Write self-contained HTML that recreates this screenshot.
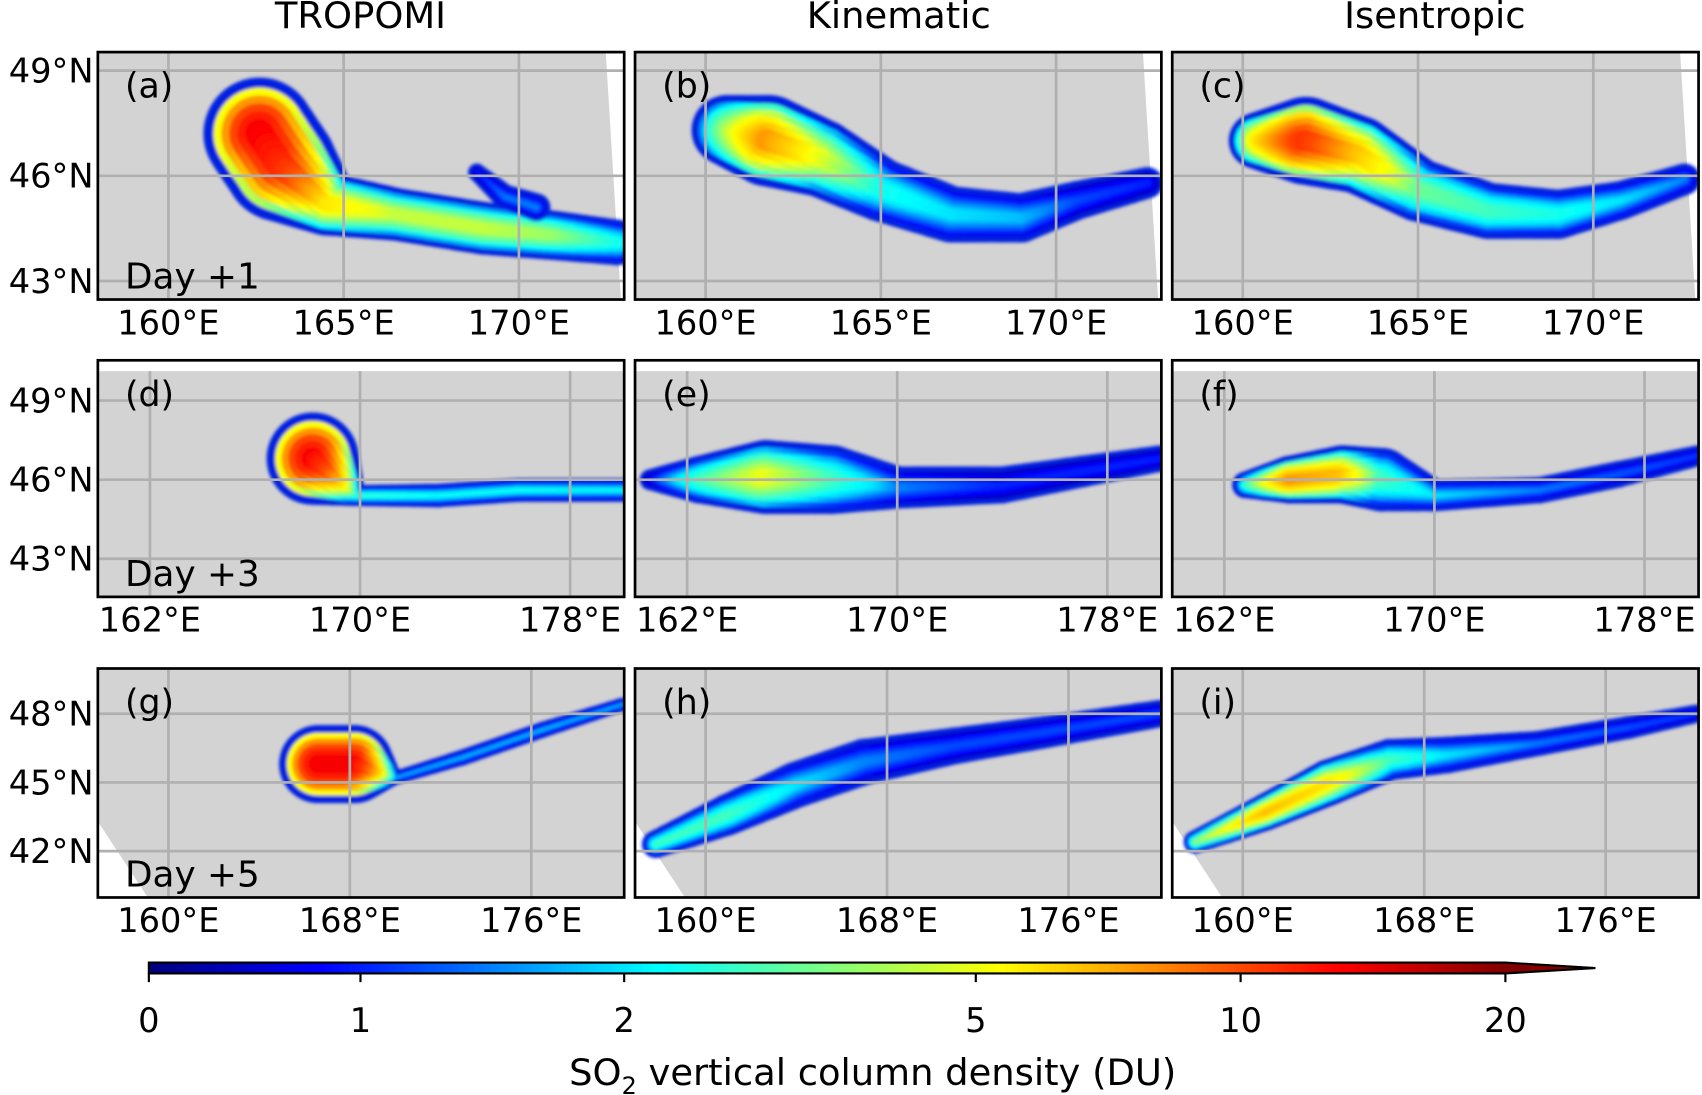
<!DOCTYPE html>
<html><head><meta charset="utf-8"><style>
html,body{margin:0;padding:0;background:#fff}
svg{display:block;font-family:"DejaVu Sans","Liberation Sans",sans-serif}
</style></head><body>
<svg id="fig" width="1702" height="1095" viewBox="0 0 1568 1009" xmlns="http://www.w3.org/2000/svg">
<defs><filter id="blr"><feGaussianBlur stdDeviation="1.5"/></filter></defs>
<g id="root"></g>
</svg>
<script>
// ---- data ----
const colTitles = ["TROPOMI","Kinematic","Isentropic"];
const panelLabels = ["(a)","(b)","(c)","(d)","(e)","(f)","(g)","(h)","(i)"];
const dayLabels = ["Day +1","Day +3","Day +5"];
const row1LonTicks = [160,165,170];
const row1LatTicks = [49,46,43];
const row2LonTicks = [162,170,178];
const row2LatTicks = [49,46,43];
const row3LonTicks = [160,168,176];
const row3LatTicks = [48,45,42];
const cbTicks = [0,1,2,5,10,20];
// plume nodes: [lon, lat, radiusDeg, DU]
const plumeA = [[162.6,47.2,1.6,14],[163.2,46.3,1.6,12],[164.5,45.2,0.9,6],[166.5,44.9,0.75,4.5],[169,44.5,0.75,4.5],[171,44.3,0.7,4],[172.8,44.1,0.65,2.5]];
const plumeA2 = [[168.8,46.1,0.25,1],[169.6,45.4,0.35,1.5],[170.5,45.1,0.4,1.5]];
const plumeB = [[160.6,47.3,1.0,4],[161.8,47.0,1.3,8],[163.3,46.5,1.1,5],[165,45.6,0.9,2.5],[167,44.9,0.8,2],[169,44.8,0.7,1.8],[170.6,45.3,0.55,1.2],[172.6,45.8,0.45,1]];
const plumeC = [[160.4,47.0,0.8,6],[161.8,47.0,1.25,11],[163.3,46.6,1.1,7],[165,45.6,0.9,3.5],[167,45.0,0.8,3],[169,44.9,0.7,2.5],[170.8,45.3,0.55,2],[172.6,45.9,0.45,1.5]];
const plumeD = [[168.2,46.8,1.75,14],[169.8,45.4,0.4,3],[173,45.4,0.45,2.5],[176,45.6,0.45,2.5],[180,45.6,0.45,2.3]];
const plumeE = [[160.6,46.0,0.4,1],[162.5,46.0,0.9,3],[165,46.1,1.4,5],[167.5,46.0,1.3,3],[170,45.7,0.8,1.5],[174,45.8,0.7,1],[177,46.3,0.6,1],[180,46.8,0.5,1]];
const plumeF = [[162.8,45.8,0.5,3],[164.5,46.0,0.9,8],[166.5,46.2,1.1,7],[168,46.0,1.2,3],[170,45.4,0.6,2],[174,45.6,0.5,1.5],[177,46.2,0.5,1.3],[180,46.9,0.4,1.2]];
const plumeG = [[166.6,45.8,1.7,14],[168.2,45.8,1.7,14],[170,45.2,0.3,2],[173,46.1,0.35,2],[176.5,47.3,0.35,2],[180,48.4,0.3,2]];
const plumeH = [[157.8,42.3,0.6,3],[161,43.6,0.9,3],[164,44.9,1.0,2],[167,45.9,1.0,1.5],[171,46.6,0.8,1.2],[175,47.2,0.7,1.2],[180,48.0,0.6,1.2]];
const plumeI = [[157.9,42.4,0.5,4],[161,43.7,0.8,7],[163.8,45.0,1.0,6],[166.5,46.0,0.9,3],[169,46.2,0.8,2],[173,46.7,0.55,1.5],[177,47.4,0.5,1.3],[180,48.0,0.4,1.2]];

// ---- layout ----
const NS="http://www.w3.org/2000/svg";
const root=document.getElementById('root');
function el(t,a,p){const e=document.createElementNS(NS,t);for(const k in a)e.setAttribute(k,a[k]);(p||root).appendChild(e);return e;}
const colX=[90,585,1080], W=485;
const rows=[
 {y0:48,y1:276,lon0:160,x0:155,ppl:32.3,lat0:46,yl:162,ppa:32.3,lonT:row1LonTicks,latT:row1LatTicks,plumes:[[plumeA,plumeA2],[plumeB],[plumeC]],top:48},
 {y0:332,y1:550,lon0:162,x0:138,ppl:24.2,lat0:46,yl:442,ppa:24.3,lonT:row2LonTicks,latT:row2LatTicks,plumes:[[plumeD],[plumeE],[plumeF]],top:342},
 {y0:616,y1:827,lon0:160,x0:155,ppl:20.9,lat0:45,yl:721,ppa:21.1,lonT:row3LonTicks,latT:row3LatTicks,plumes:[[plumeG],[plumeH],[plumeI]],top:616}
];
function jet(t){t=Math.max(0,Math.min(1,t));const c=v=>Math.round(255*Math.max(0,Math.min(1,v)));
 return `rgb(${c(1.5-Math.abs(4*t-3))},${c(1.5-Math.abs(4*t-2))},${c(1.5-Math.abs(4*t-1))})`;}
const cbPos=[0,195,438,762,1006,1250];
function norm(v){for(let i=1;i<cbTicks.length;i++){if(v<=cbTicks[i]){const f=(v-cbTicks[i-1])/(cbTicks[i]-cbTicks[i-1]);return (cbPos[i-1]+f*(cbPos[i]-cbPos[i-1]))/1250;}}return 1;}

el('text',{x:332,y:26,'font-size':34,'text-anchor':'middle',}).textContent=colTitles[0];
el('text',{x:828,y:26,'font-size':34,'text-anchor':'middle',}).textContent=colTitles[1];
el('text',{x:1322,y:26,'font-size':34,'text-anchor':'middle',}).textContent=colTitles[2];

rows.forEach((r,ri)=>{
 for(let ci=0;ci<3;ci++){
  const px=colX[ci], off=px-90;
  const g=el('g',{});
  
  
  const cid='clip'+ri+ci;
  const cp=el('clipPath',{id:cid},g); el('rect',{x:px,y:r.y0,width:W,height:r.y1-r.y0},cp);
  const inner=el('g',{'clip-path':`url(#${cid})`},g);
  el('rect',{x:px,y:r.top,width:W,height:r.y1-r.top,fill:'#d3d3d3'},inner);
  if(ri==0){el('polygon',{points:`${px+468},${r.y0} ${px+W},${r.y0} ${px+W},${r.y1} ${px+482},${r.y1}`,fill:'#fff'},inner);}
  if(ri==2){el('polygon',{points:`${px},${r.y1-70} ${px+46},${r.y1} ${px},${r.y1}`,fill:'#fff'},inner);}
  const X=lon=>off+r.x0+(lon-r.lon0)*r.ppl, Y=lat=>r.yl-(lat-r.lat0)*r.ppa;
  const pg=el('g',{filter:'url(#blr)'},inner);
  r.plumes[ci].forEach(pl=>{
   for(let k=0;k<6;k++){
    for(let i=0;i<pl.length-1;i++){
     const a=pl[i],b=pl[i+1];const steps=Math.max(2,Math.ceil(Math.hypot(X(b[0])-X(a[0]),Y(b[1])-Y(a[1]))/4));
     for(let s=0;s<=steps;s++){const f=s/steps;
      const lon=a[0]+f*(b[0]-a[0]),lat=a[1]+f*(b[1]-a[1]),rd=a[2]+f*(b[2]-a[2]),v=a[3]+f*(b[3]-a[3]);
      const rr=rd*r.ppa*(1-k*0.14)-(k==0?0:2);
      const val=k==0?0.3:v*Math.pow(k/5,0.6);
      el('circle',{cx:X(lon).toFixed(1),cy:Y(lat).toFixed(1),r:Math.max(1,rr).toFixed(1),fill:k==0?'#0020e0':jet(norm(val))},pg);
     }
    }
   }
  });
  r.lonT.forEach(t=>el('line',{x1:X(t),x2:X(t),y1:r.top,y2:r.y1,stroke:'#b0b0b0','stroke-width':2.5},inner));
  r.latT.forEach(t=>el('line',{x1:px,x2:px+W,y1:Y(t),y2:Y(t),stroke:'#b0b0b0','stroke-width':2.5},inner));
  el('rect',{x:px,y:r.y0,width:W,height:r.y1-r.y0,fill:'none',stroke:'#000','stroke-width':2.5},g);
  const pl=el('text',{x:px+25,y:r.y0+42,'font-size':32},g);pl.textContent=panelLabels[ri*3+ci];
  if(ci==0){const d=el('text',{x:px+25,y:r.y1-10,'font-size':33},g);d.textContent=dayLabels[ri];
   r.latT.forEach(t=>{const tt=el('text',{x:86,y:Y(t)+11,'font-size':31,'text-anchor':'end'},g);tt.textContent=t+'°N';});}
  r.lonT.forEach(t=>{let x=X(t);
   const tt=el('text',{x:x,y:r.y1+32,'font-size':31,'text-anchor':'middle'},g);tt.textContent=t+'°E';});
 }
});
const cb=el('g',{});


for(let i=0;i<250;i++){el('rect',{x:137+i*5,y:887,width:5.6,height:10,fill:jet(i/250)},cb);}
el('polygon',{points:'1387,887 1470,892 1387,897',fill:'#800000'},cb);
el('polygon',{points:'137,887 1387,887 1470,892 1387,897 137,897',fill:'none',stroke:'#000','stroke-width':2},cb);
cbTicks.forEach((t,i)=>{const x=137+cbPos[i];el('line',{x1:x,x2:x,y1:897,y2:905,stroke:'#000','stroke-width':2},cb);
 const tt=el('text',{x:x,y:951,'font-size':31,'text-anchor':'middle'},cb);tt.textContent=t;});
const lab=el('text',{x:804,y:1000,'font-size':34,'text-anchor':'middle'},cb);


lab.innerHTML='SO<tspan font-size="22" dy="8">2</tspan><tspan dy="-8"> vertical column density (DU)</tspan>';
</script>
</body></html>
